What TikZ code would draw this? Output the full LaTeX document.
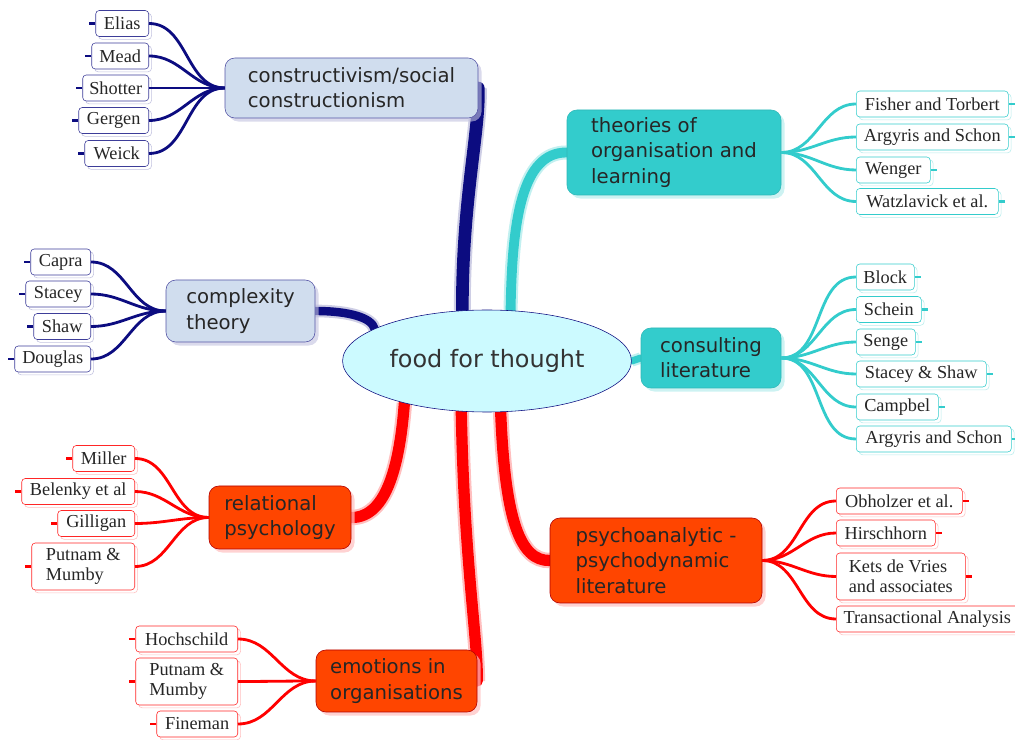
\documentclass[tikz,border=0pt]{standalone}
\usepackage{fontspec}
\setmainfont{Liberation Serif}
\newfontfamily\topicfont{DejaVu Sans}
\usetikzlibrary{shapes}
\usetikzlibrary{shadows}
\usetikzlibrary{backgrounds}

\definecolor{mapnavy}{RGB}{12,12,128}
\definecolor{mapteal}{RGB}{51,204,204}
\definecolor{mapred}{RGB}{255,0,0}
\definecolor{maporange}{RGB}{255,69,0}
\definecolor{mapgrey}{RGB}{208,221,238}
\definecolor{mapcyan}{RGB}{204,250,255}

\begin{document}
\begin{tikzpicture}[x=0.025cm, y=-0.025cm,
  boxsize/.style 2 args={minimum width=#1*0.025cm, minimum height=#2*0.025cm},
  topicbox/.style={rounded corners=7pt, align=left, text=black!85,
    font=\topicfont\fontsize{14pt}{18pt}\selectfont},
  navybox/.style={topicbox, draw=mapnavy!70, fill=mapgrey,
    drop shadow={shadow xshift=2.5pt, shadow yshift=-2.5pt, fill=mapnavy!25, opacity=0.6}},
  tealbox/.style={topicbox, draw=mapteal!90!black, fill=mapteal,
    drop shadow={shadow xshift=2.5pt, shadow yshift=-2.5pt, fill=mapteal!35, opacity=0.7}},
  redbox/.style={topicbox, draw=red!70!black, fill=maporange,
    drop shadow={shadow xshift=2.5pt, shadow yshift=-2.5pt, fill=mapred!25, opacity=0.7}},
  leafbox/.style={fill=white, rounded corners=2.5pt, align=left, inner sep=2pt,
    font=\fontsize{13pt}{14.5pt}\selectfont, text=black!85},
  mainline/.style={line width=7pt, line cap=round},
  twigline/.style={line width=2pt},
  tickline/.style={line width=1.8pt}
]

 \useasboundingbox (0,0) rectangle (1015,740);

 % centre
 \node[ellipse, draw=mapnavy, fill=mapcyan, boxsize={250}{102}, text=black!80,
   font=\topicfont\fontsize{17pt}{20pt}\selectfont] (root) at (487,361) {food for thought};

 % topics
 \node[navybox, boxsize={253}{60}] (T1) at (351.5,88) {constructivism/social\\constructionism};
 \node[navybox, boxsize={149}{62}] (T2) at (240.5,311) {complexity\\theory};
 \node[tealbox, boxsize={214}{85}] (T3) at (674,152.5) {theories of\\organisation and\\learning};
 \node[tealbox, boxsize={140}{60}] (T4) at (711,358) {consulting\\literature};
 \node[redbox, boxsize={212}{85}] (T5) at (656,560.5) {psychoanalytic -\\psychodynamic\\literature};
 \node[redbox, boxsize={142}{63}] (T6) at (280,517.5) {relational\\psychology};
 \node[redbox, boxsize={161}{62}] (T7) at (396.5,681) {emotions in\\organisations};

 % leaves on the left
 \foreach \name/\txt/\y/\w/\h in {c1/Elias/23.5/53/26, c2/Mead/56/57/26, c3/Shotter/88/66/26,
   c4/Gergen/120.5/70/26, c5/Weick/153.5/64/26}
 {
   \node[leafbox, draw=mapnavy!80, boxsize={\w}{\h}, anchor=east,
     drop shadow={shadow xshift=2pt, shadow yshift=-2pt, fill=white, draw=mapnavy!25, opacity=1}]
     (\name) at (149,\y) {\txt};
   \draw[tickline, mapnavy] (\name.west) -- ++(-6,0);
   \draw[twigline, mapnavy] (T1.west) to[out=180, in=0] (\name.east);
 }

 \foreach \name/\txt/\y/\w/\h in {x1/Capra/262/60/26, x2/Stacey/294/65/26,
   x3/Shaw/326.5/57/26, x4/Douglas/359/76/26}
 {
   \node[leafbox, draw=mapnavy!80, boxsize={\w}{\h}, anchor=east,
     drop shadow={shadow xshift=2pt, shadow yshift=-2pt, fill=white, draw=mapnavy!25, opacity=1}]
     (\name) at (91,\y) {\txt};
   \draw[tickline, mapnavy] (\name.west) -- ++(-6,0);
   \draw[twigline, mapnavy] (T2.west) to[out=180, in=0] (\name.east);
 }

 \foreach \name/\txt/\y/\w/\h in {r1/Miller/458.5/62/26, r2/Belenky et al/491.5/113/26,
   r3/Gilligan/523.5/77/26, r4/{Putnam \&\\Mumby}/566.5/103/47}
 {
   \node[leafbox, draw=mapred!85, boxsize={\w}{\h}, anchor=east,
     drop shadow={shadow xshift=2pt, shadow yshift=-2pt, fill=white, draw=mapred!25, opacity=1}]
     (\name) at (135,\y) {\txt};
   \draw[tickline, mapred] (\name.west) -- ++(-6,0);
   \draw[twigline, mapred] (T6.west) to[out=180, in=0] (\name.east);
 }

 \foreach \name/\txt/\y/\w/\h in {e1/Hochschild/639/102/26, e2/{Putnam \&\\Mumby}/681.5/102/47,
   e3/Fineman/724/81/26}
 {
   \node[leafbox, draw=mapred!85, boxsize={\w}{\h}, anchor=east,
     drop shadow={shadow xshift=2pt, shadow yshift=-2pt, fill=white, draw=mapred!25, opacity=1}]
     (\name) at (238,\y) {\txt};
   \draw[tickline, mapred] (\name.west) -- ++(-6,0);
   \draw[twigline, mapred] (T7.west) to[out=180, in=0] (\name.east);
 }

 % leaves on the right
 \foreach \name/\txt/\y/\w/\h in {t1/Fisher and Torbert/104/152/26, t2/Argyris and Schon/137/152/26,
   t3/Wenger/170/74/26, t4/Watzlavick et al./201.5/142/26}
 {
   \node[leafbox, draw=mapteal, boxsize={\w}{\h}, anchor=west,
     drop shadow={shadow xshift=2pt, shadow yshift=-2pt, fill=white, draw=mapteal!35, opacity=1}]
     (\name) at (856,\y) {\txt};
   \draw[tickline, mapteal] (\name.east) -- ++(6,0);
   \draw[twigline, mapteal] (T3.east) to[out=0, in=180] (\name.west);
 }

 \foreach \name/\txt/\y/\w/\h in {k1/Block/277/58/26, k2/Schein/309.5/65/26, k3/Senge/342/59/26,
   k4/Stacey \& Shaw/374/130/26, k5/Campbel/407/82/26, k6/Argyris and Schon/439/155/26}
 {
   \node[leafbox, draw=mapteal, boxsize={\w}{\h}, anchor=west,
     drop shadow={shadow xshift=2pt, shadow yshift=-2pt, fill=white, draw=mapteal!35, opacity=1}]
     (\name) at (856,\y) {\txt};
   \draw[tickline, mapteal] (\name.east) -- ++(6,0);
   \draw[twigline, mapteal] (T4.east) to[out=0, in=180] (\name.west);
 }

 \foreach \name/\txt/\y/\w/\h in {p1/Obholzer et al./501/126/26, p2/Hirschhorn/533/99/26,
   p3/{Kets de Vries\\and associates}/576.5/129/47, p4/Transactional Analysis/619/182/26}
 {
   \node[leafbox, draw=mapred!85, boxsize={\w}{\h}, anchor=west,
     drop shadow={shadow xshift=2pt, shadow yshift=-2pt, fill=white, draw=mapred!25, opacity=1}]
     (\name) at (836,\y) {\txt};
   \draw[tickline, mapred] (\name.east) -- ++(6,0);
   \draw[twigline, mapred] (T5.east) to[out=0, in=180] (\name.west);
 }

 % main branches behind the nodes
 \begin{scope}[on background layer]
  \draw[mainline, line width=9pt, mapnavy, preaction={draw, line width=12pt, mapnavy!20}]
    (root.116) .. controls (462,200) and (480,130) .. (T1.east);
  \draw[mainline, line width=6pt, mapnavy, preaction={draw, line width=9pt, mapnavy!20}]
    (T2.east) .. controls (350,311) and (372,318) .. (root.164);
  \draw[mainline, mapteal, preaction={draw, line width=10pt, mapteal!30}]
    (root.65) .. controls (512,220) and (522,152) .. (T3.west);
  \draw[mainline, line width=5pt, mapteal, preaction={draw, line width=8pt, mapteal!30}]
    (root.east) -- (T4.west);
  \draw[mainline, line width=8pt, mapred, preaction={draw, line width=11pt, mapred!25}]
    (root.285) .. controls (505,520) and (520,561) .. (T5.west);
  \draw[mainline, line width=8pt, mapred, preaction={draw, line width=11pt, mapred!25}]
    (T6.east) .. controls (388,518) and (400,460) .. (root.207);
  \draw[mainline, line width=8pt, mapred, preaction={draw, line width=11pt, mapred!25}]
    (root.243) .. controls (464,560) and (478,640) .. (T7.east);
 \end{scope}

\end{tikzpicture}
\end{document}
